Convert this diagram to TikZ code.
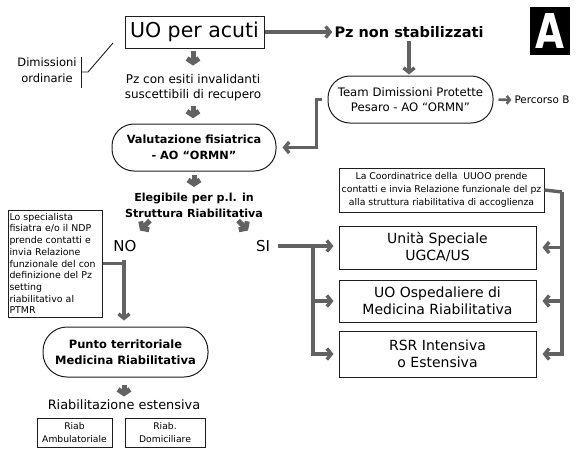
\documentclass[tikz,border=0pt]{standalone}
\usepackage{fontspec}
\setmainfont{DejaVu Sans}
\usetikzlibrary{arrows.meta,calc}
\newcommand\fsz[2]{\fontsize{#1}{#2}\selectfont}
\definecolor{conn}{HTML}{626262}
\definecolor{edge}{HTML}{1E1E1E}
\tikzset{
  box/.style={draw=edge,line width=1pt,inner sep=0pt,align=center,fill=white},
  rbox/.style={box,rounded corners=22pt},
  txt/.style={inner sep=0pt,align=center},
  link/.style={draw=conn,line width=3.4pt},
  arr/.style={link,-{Straight Barb[length=4.5pt,width=11pt]}},
  tick/.style={draw=conn,line width=5pt,-{Straight Barb[length=4pt,width=12pt]}},
  thin/.style={draw=edge,line width=0.9pt}
}
\begin{document}
\begin{tikzpicture}[x=1pt,y=-1pt]
\useasboundingbox (0,0) rectangle (579,451);
% title letter
\node[fill=black,minimum width=40pt,minimum height=48pt,inner sep=0pt,text=white,font={\fsz{48}{48}\bfseries}] (A) at (550,31)
  {\scalebox{0.78}[1]{A}};
% nodes
\node[box,minimum width=139pt,minimum height=32pt,font={\fsz{20.5}{22}}] (uo) at (194.5,32) {UO per acuti};
\node[txt,font={\fsz{14.5}{16}\bfseries}] (pzns) at (409,32) {Pz non stabilizzati};
\node[rbox,minimum width=165pt,minimum height=47pt,font={\fsz{11.7}{15}}] (team) at (410.5,99.5)
  {Team Dimissioni Protette\\Pesaro - AO “ORMN”};
\node[txt,font={\fsz{10.4}{12}}] (percB) at (542,100) {Percorso B};
\node[txt,font={\fsz{11.5}{16}}] (dimord) at (47,70) {Dimissioni\\ordinarie};
\node[txt,font={\fsz{12}{15.5}}] (pzesiti) at (193,87.5) {Pz con esiti invalidanti\\suscettibili di recupero};
\node[rbox,minimum width=164pt,minimum height=47pt,font={\fsz{11.3}{15.5}\bfseries}] (val) at (194,147.5)
  {Valutazione fisiatrica\\- AO “ORMN”};
\node[txt,font={\fsz{11.1}{16}\bfseries}] (eleg) at (194,205) {Elegibile per p.l. in\\Struttura Riabilitativa};
\node[txt,font={\fsz{15}{16}}] (no) at (125,246) {NO};
\node[txt,font={\fsz{15}{16}}] (si) at (263,246) {SI};
\node[box,minimum width=94pt,minimum height=107pt,text width=91pt,inner xsep=1.5pt,align=left,font={\fsz{9.4}{11.7}}] (spec) at (55,263.5)
  {Lo specialista\\fisiatra e/o il NDP\\prende contatti e\\invia Relazione\\funzionale del con\\definizione del Pz\\setting\\riabilitativo al\\PTMR};
\node[rbox,minimum width=165pt,minimum height=50pt,rounded corners=24pt,font={\fsz{11.5}{16}\bfseries}] (punto) at (125.5,352)
  {Punto territoriale\\Medicina Riabilitativa};
\node[txt,font={\fsz{12.9}{15}}] (riabest) at (124,405) {Riabilitazione estensiva};
\node[box,minimum width=75pt,minimum height=29pt,font={\fsz{9.2}{12.5}}] (amb) at (74.5,432.5) {Riab\\Ambulatoriale};
\node[box,minimum width=80pt,minimum height=29pt,font={\fsz{9.2}{12.5}}] (dom) at (165,432.5) {Riab.\\Domiciliare};
\node[box,minimum width=205pt,minimum height=44pt,font={\fsz{9.3}{13}}] (coord) at (441.5,190)
  {La Coordinatrice della\ \ UUOO prende\\contatti e invia Relazione funzionale del pz\\alla struttura riabilitativa di accoglienza};
\node[box,minimum width=197pt,minimum height=43pt,font={\fsz{14}{17}}] (us) at (437.5,247.5) {Unità Speciale\\UGCA/US};
\node[box,minimum width=197pt,minimum height=42pt,font={\fsz{14}{17}}] (uoosp) at (437.5,301) {UO Ospedaliere di\\Medicina Riabilitativa};
\node[box,minimum width=197pt,minimum height=46pt,font={\fsz{14}{17}}] (rsr) at (437.5,354) {RSR Intensiva\\o Estensiva};
% dimissioni ordinarie bracket
\coordinate (bt) at (81,57);
\coordinate (bb) at (81,88);
\coordinate (bm) at (81,72);
\coordinate (dg) at (113,43);
\draw[thin] (bt) -- (bb);
\draw[thin] (bm) -- ++(7,0) -- (dg);
% main connectors
\draw[arr,shorten >=2pt] (uo.east) -- (pzns.west);
\draw[arr,shorten <=3pt,shorten >=1pt] (pzns.south) -- (pzns.south |- team.north);
\draw[arr,shorten <=6pt,shorten >=6pt] (team.west) -- ++(-11,0) |- (val.east);
\draw[link,line width=2.6pt,-{Straight Barb[length=3pt,width=8pt]},shorten <=5pt,shorten >=3pt] (team.east) -- (percB.west);
% small vertical arrows
\draw[tick] ($(uo.south)+(-1.5,2)$) -- ++(0,15);
\draw[tick] ($(pzesiti.south)+(0,5)$) -- ++(0,12);
\draw[tick] ($(val.south)+(0,3.5)$) -- ++(0,12);
\draw[tick] ($(eleg.south)+(-44,3)$) -- ++(-10,10);
\draw[tick] ($(eleg.south)+(44,3)$) -- ++(10,10);
\draw[tick] ($(punto.north |- punto.south)+(-1.5,7)$) -- ++(0,12);
% NO branch
\coordinate (nj) at (124,260);
\draw[arr,shorten >=6pt] (nj) -- (nj |- punto.north);
\draw[link] (spec.east) -- (spec.east -| nj);
% SI branch
\coordinate (sj) at (313,248);
\draw[arr,shorten <=8pt,shorten >=5pt] (si.east) -- (si.east -| us.west);
\draw[arr,shorten >=5pt] (sj) |- (rsr.west);
\draw[arr,shorten >=5pt] (sj |- uoosp.west) -- (uoosp.west);
% coordinatrice branch
\coordinate (cj) at (562,192);
\draw[link] (coord.east) -- (cj);
\draw[arr,shorten >=6pt] (cj) |- (rsr.east);
\draw[arr,shorten >=6pt] (cj |- us.east) -- (us.east);
\draw[arr,shorten >=6pt] (cj |- uoosp.east) -- (uoosp.east);
\end{tikzpicture}
\end{document}
